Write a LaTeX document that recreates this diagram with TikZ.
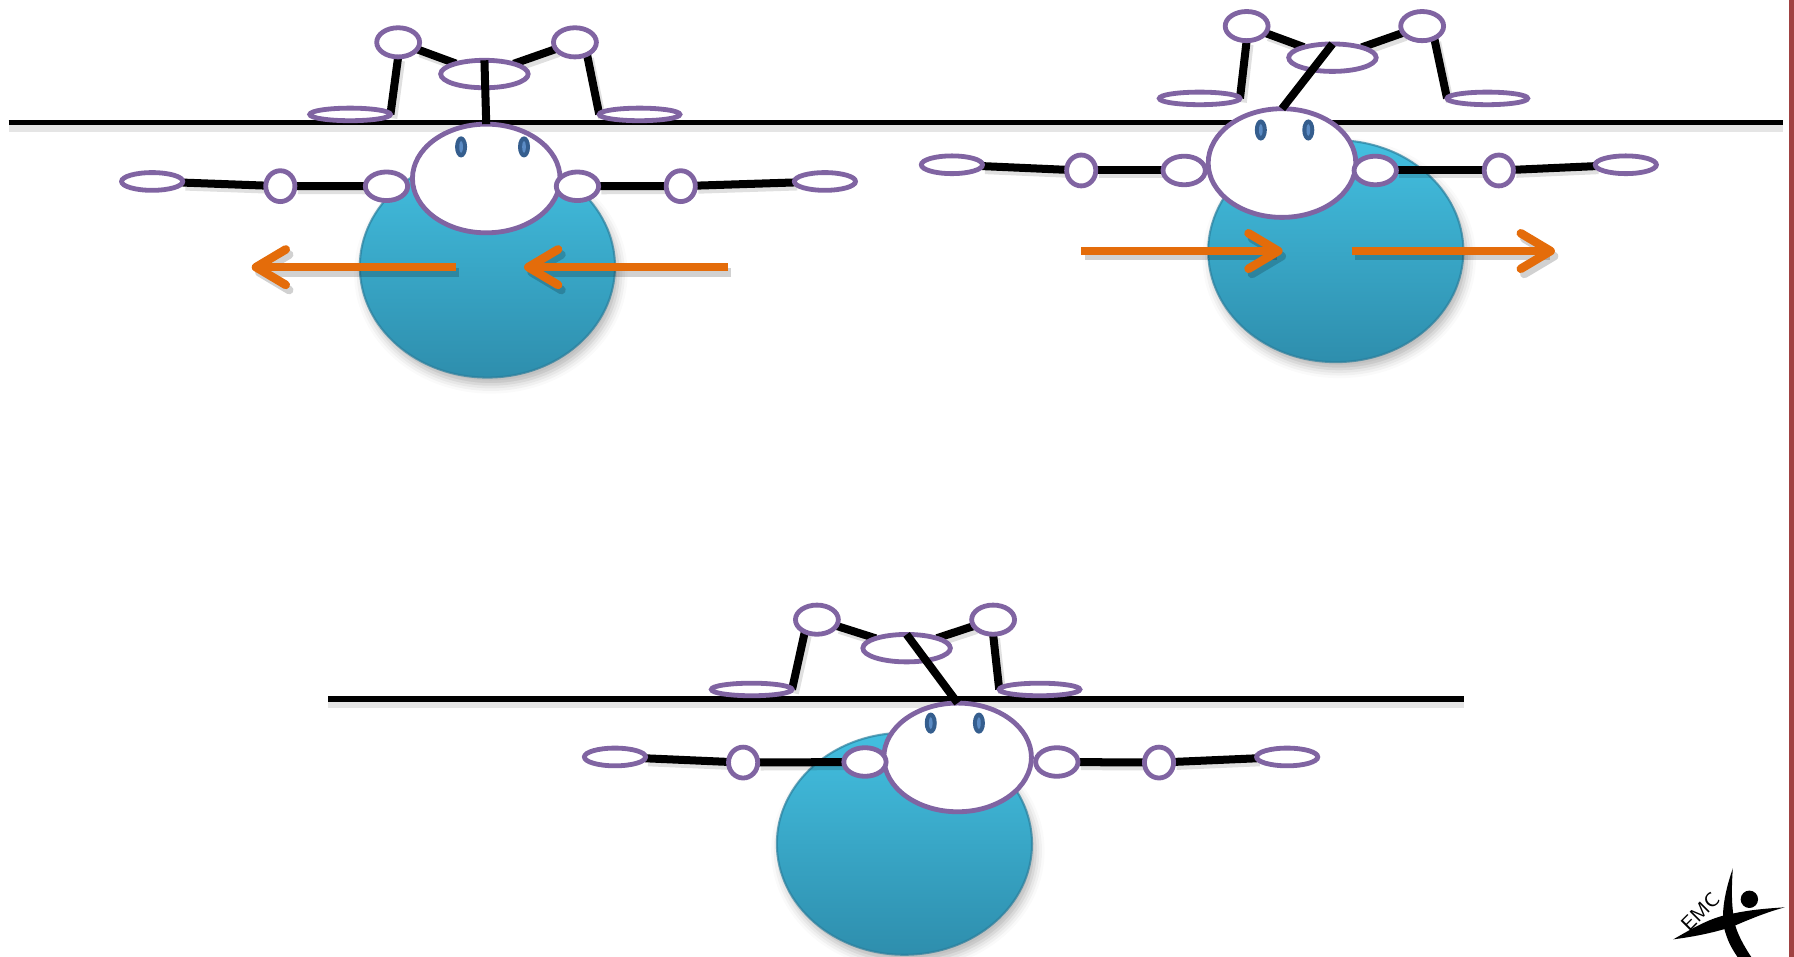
\documentclass[tikz,border=0pt]{standalone}
\usetikzlibrary{shapes.geometric,arrows.meta,shadows.blur}

\definecolor{lipid}{HTML}{8064A2}
\definecolor{eyeblue}{HTML}{355E8E}
\definecolor{eyelight}{HTML}{5B8BC4}
\definecolor{celltop}{HTML}{43BFE0}
\definecolor{cellbottom}{HTML}{2E8EAD}
\definecolor{cellrim}{HTML}{2A7F9D}
\definecolor{pushorange}{HTML}{E46C0A}
\definecolor{borderred}{HTML}{A04242}

\pgfdeclarelayer{back}
\pgfdeclarelayer{links}
\pgfdeclarelayer{front}
\pgfsetlayers{back,links,main,front}

\tikzset{
  ring/.style={ellipse, draw=lipid, fill=white, line width=0.42mm, inner sep=0pt, outer sep=0pt},
  headring/.style={ring, minimum width=12.9mm, minimum height=9.5mm},
  shoulder/.style={ring, minimum width=3.7mm, minimum height=2.5mm},
  armjoint/.style={ring, minimum width=2.55mm, minimum height=2.7mm},
  armtip/.style={ring, minimum width=5.35mm, minimum height=1.55mm},
  topring/.style={ring, minimum width=3.75mm, minimum height=2.55mm},
  glycerol/.style={ring, minimum width=7.65mm, minimum height=2.4mm},
  foot/.style={ring, minimum width=7.05mm, minimum height=1.1mm},
  eye/.style={ellipse, fill=eyeblue, inner sep=0pt, minimum width=1.05mm, minimum height=1.85mm},
  glint/.style={ellipse, fill=eyelight, inner sep=0pt, minimum width=0.32mm, minimum height=1.05mm},
  cell/.style={ellipse, inner sep=0pt, minimum width=22.3mm, minimum height=19.4mm,
    top color=celltop, bottom color=cellbottom, draw=cellrim, draw opacity=0.7, line width=0.18mm,
    blur shadow={shadow xshift=0.3mm, shadow yshift=-0.6mm, shadow blur radius=0.8mm, shadow opacity=30}},
  bond/.style={line width=0.7mm, black},
  bondshade/.style={line width=0.7mm, black, opacity=0.12, transform canvas={xshift=0.25mm, yshift=-0.35mm}},
  membrane/.style={line width=0.5mm, black},
  membraneshade/.style={line width=0.9mm, black, opacity=0.1},
  push/.style={line width=0.75mm, draw=pushorange, -{Straight Barb[length=2.6mm, width=3.1mm, round]}},
  pushshade/.style={push, draw=black, opacity=0.18, transform canvas={xshift=0.3mm, yshift=-0.45mm}},
  logo/.style={fill=black},
}

\begin{document}
\begin{tikzpicture}[x=0.1mm, y=-0.1mm]
\useasboundingbox (0,0) rectangle (1568,836);

% right-hand page border
\draw[line width=0.45mm, borderred] (1566,0) -- (1566,836);

% membrane lines
\coordinate (m1w) at (7.5,107);
\coordinate (m1e) at (1558,107);
\coordinate (m2w) at (287,611);
\coordinate (m2e) at (1280,611);

\begin{pgfonlayer}{back}
  \draw[membraneshade] ([yshift=-0.35mm]m1w) -- ([yshift=-0.35mm]m1e);
  \draw[membraneshade] ([yshift=-0.35mm]m2w) -- ([yshift=-0.35mm]m2e);
  \draw[membrane] (m1w) -- (m1e);
  \draw[membrane] (m2w) -- (m2e);
  % cell bodies
  \node[cell] (s1body) at (426,233) {};
  \node[cell] (s2body) at (1167.5,219.5) {};
  \node[cell] (s3body) at (790.5,737.5) {};
\end{pgfonlayer}

% ---------- molecule 1 ----------
\node[headring] (s1head) at (425,156) {};
\node[eye] (s1eyeL) at (403,128.4) {};
\node[eye] (s1eyeR) at (458,128.4) {};
\node[glint] (s1glintL) at (s1eyeL) {};
\node[glint] (s1glintR) at (s1eyeR) {};
\node[shoulder] (s1shL) at (337.8,162.8) {};
\node[shoulder] (s1shR) at (504.7,162.8) {};
\node[armjoint] (s1midL) at (245,162.7) {};
\node[armjoint] (s1midR) at (595,162.7) {};
\node[armtip] (s1endL) at (133,158.6) {};
\node[armtip] (s1endR) at (721,158.6) {};
\node[topring] (s1tl) at (348,37) {};
\node[topring] (s1tr) at (502.5,37) {};
\node[glycerol] (s1c) at (423.4,64.7) {};
\node[foot] (s1bl) at (306,100) {};
\node[foot] (s1br) at (559,100) {};

% ---------- molecule 2 ----------
\node[headring] (s2head) at (1120.5,142.5) {};
\node[eye] (s2eyeL) at (1102,113.6) {};
\node[eye] (s2eyeR) at (1143.5,113.6) {};
\node[glint] (s2glintL) at (s2eyeL) {};
\node[glint] (s2glintR) at (s2eyeR) {};
\node[shoulder] (s2shL) at (1035,149) {};
\node[shoulder] (s2shR) at (1202,149) {};
\node[armjoint] (s2midL) at (945,149) {};
\node[armjoint] (s2midR) at (1310,149) {};
\node[armtip] (s2endL) at (832,144) {};
\node[armtip] (s2endR) at (1421,144) {};
\node[topring] (s2tl) at (1089.6,22.8) {};
\node[topring] (s2tr) at (1243,22.8) {};
\node[glycerol] (s2c) at (1164.6,50.4) {};
\node[foot] (s2bl) at (1048.5,86) {};
\node[foot] (s2br) at (1300,86) {};

% ---------- molecule 3 ----------
\node[headring] (s3head) at (837,662) {};
\node[eye] (s3eyeL) at (813.5,632) {};
\node[eye] (s3eyeR) at (855.6,632) {};
\node[glint] (s3glintL) at (s3eyeL) {};
\node[glint] (s3glintR) at (s3eyeR) {};
\node[shoulder] (s3shL) at (756,666) {};
\node[shoulder] (s3shR) at (923.7,666) {};
\node[armjoint] (s3midL) at (649.5,666.5) {};
\node[armjoint] (s3midR) at (1013,666.5) {};
\node[armtip] (s3endL) at (537.5,661.6) {};
\node[armtip] (s3endR) at (1125,661.6) {};
\node[topring] (s3tl) at (714,541.6) {};
\node[topring] (s3tr) at (868,541.6) {};
\node[glycerol] (s3c) at (792.4,566.5) {};
\node[foot] (s3bl) at (657,602.6) {};
\node[foot] (s3br) at (908.6,602.6) {};

% bonds, kept behind the rings
\begin{pgfonlayer}{links}
  \foreach \s in {s1,s2,s3} {
    \foreach \st in {bondshade,bond} {
      \draw[\st] (\s endL) -- (\s midL);
      \draw[\st] (\s midL) -- (\s shL);
      \draw[\st] (\s shR) -- (\s midR);
      \draw[\st] (\s midR) -- (\s endR);
      \draw[\st] (\s tl) -- (\s c);
      \draw[\st] (\s c) -- (\s tr);
    }
  }
  \foreach \st in {bondshade,bond} {
    \draw[\st] (s1tl.south) -- (s1bl.east);
    \draw[\st] (s1tr.-45) -- (s1br.west);
    \draw[\st] (s2tl.south) -- (s2bl.east);
    \draw[\st] (s2tr.-45) -- (s2br.west);
    \draw[\st] (s3tl.-135) -- (s3bl.east);
    \draw[\st] (s3tr.south) -- (s3br.west);
  }
\end{pgfonlayer}

\begin{pgfonlayer}{front}
  % necks joining the upper part to the head
  \draw[bond] (s1c.north) -- (s1head.north);
  \draw[bond] (s2c.north) -- (s2head.north);
  \draw[bond] (s3c.north) -- (s3head.north);

  % forces on the cells
  \coordinate (s1a1s) at (398.3,233.5);
  \coordinate (s1a1t) at (220,233.5);
  \coordinate (s1a2s) at (636,233.5);
  \coordinate (s1a2t) at (458,233.5);
  \coordinate (s2a1s) at (945,219.4);
  \coordinate (s2a1t) at (1121,219.4);
  \coordinate (s2a2s) at (1181.4,219.4);
  \coordinate (s2a2t) at (1359,219.4);
  \foreach \a in {s1a1,s1a2,s2a1,s2a2} {
    \draw[pushshade] (\a s) -- (\a t);
    \draw[push] (\a s) -- (\a t);
  }
\end{pgfonlayer}

% EMC logo
\fill[logo] (1514.5,759) .. controls (1508,778) and (1503,800) .. (1508,815)
  .. controls (1511,825) and (1515,831) .. (1519,837) -- (1531,837)
  .. controls (1525,828) and (1518,816) .. (1516,806)
  .. controls (1513,790) and (1513.5,775) .. cycle;
\fill[logo] (1462.5,821) .. controls (1480,811) and (1495,802) .. (1512,799)
  .. controls (1530,795) and (1545,794) .. (1560,793)
  .. controls (1545,797) and (1530,803) .. (1514,810)
  .. controls (1495,816) and (1478,819) .. cycle;
\fill[logo] (1529,786) circle[radius=0.76mm];
\node[rotate=45, font=\sffamily\fontsize{5}{6}\selectfont, inner sep=0pt] (emc) at (1486,797) {EMC};
\end{tikzpicture}
\end{document}
